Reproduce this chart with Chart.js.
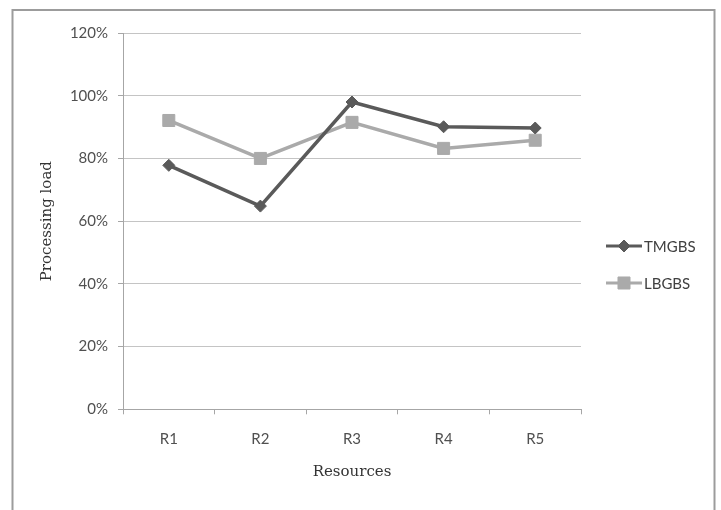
<!DOCTYPE html>
<html>
<head>
<meta charset="utf-8">
<script src="https://cdn.jsdelivr.net/npm/chart.js@4.4.1/dist/chart.umd.min.js"></script>
<style>
  html, body { margin: 0; padding: 0; background: #fff; }
  #wrap { width: 721px; height: 510px; position: relative; }
</style>
</head>
<body>
<div id="wrap"><canvas id="chart" width="721" height="510"></canvas></div>
<script>
// data
const RESOURCES = ['R1', 'R2', 'R3', 'R4', 'R5'];
const TMGBS = [0.778, 0.648, 0.980, 0.901, 0.897];
const LBGBS = [0.921, 0.800, 0.915, 0.832, 0.858];
const Y_TICKS = [0, 0.2, 0.4, 0.6, 0.8, 1.0, 1.2];

const DARK = '#5a5a5a';
const LIGHT = '#aaaaaa';
const AXIS = '#a6a6a6';
const GRID = '#c4c4c4';

// frame around the whole figure
const framePlugin = {
  id: 'frame',
  beforeDraw(chart) {
    const ctx = chart.ctx;
    ctx.save();
    ctx.strokeStyle = '#9c9c9c';
    ctx.lineWidth = 2;
    ctx.strokeRect(12.5, 10, 702, 530);
    ctx.restore();
  }
};

// legend like the original: short line with the marker in the middle
const sideLegend = {
  id: 'sideLegend',
  afterDraw(chart) {
    const ctx = chart.ctx;
    const x0 = chart.chartArea.right + 25;
    const rows = [246, 283];
    chart.data.datasets.forEach((ds, i) => {
      const y = rows[i];
      ctx.save();
      ctx.strokeStyle = ds.borderColor;
      ctx.fillStyle = ds.borderColor;
      ctx.lineWidth = 3;
      ctx.beginPath();
      ctx.moveTo(x0, y);
      ctx.lineTo(x0 + 36, y);
      ctx.stroke();
      ctx.lineWidth = 1;
      Chart.helpers.drawPoint(ctx, {
        pointStyle: ds.pointStyle,
        radius: ds.pointRadius,
        borderWidth: 1
      }, x0 + 18, y);
      ctx.fillStyle = '#404040';
      ctx.font = '15px Lato';
      ctx.textBaseline = 'middle';
      ctx.fillText(ds.label, x0 + 38, y + 1);
      ctx.restore();
    });
  }
};

new Chart(document.getElementById('chart'), {
  type: 'line',
  data: {
    labels: RESOURCES,
    datasets: [
      {
        label: 'TMGBS',
        data: TMGBS,
        borderColor: DARK,
        backgroundColor: DARK,
        borderWidth: 3.5,
        pointStyle: 'rectRot',
        pointRadius: 6,
        pointBorderWidth: 1,
        tension: 0
      },
      {
        label: 'LBGBS',
        data: LBGBS,
        borderColor: LIGHT,
        backgroundColor: LIGHT,
        borderWidth: 3.5,
        pointStyle: 'rect',
        pointRadius: 8.5,
        pointBorderWidth: 1,
        tension: 0
      }
    ]
  },
  options: {
    responsive: false,
    animation: false,
    layout: { padding: { top: 33, right: 140, bottom: 0, left: 0 } },
    plugins: {
      legend: { display: false },
      tooltip: { enabled: false }
    },
    scales: {
      x: {
        offset: true,
        grid: { offset: true, drawOnChartArea: false, color: AXIS, tickLength: 5 },
        border: { color: AXIS, width: 1 },
        ticks: { color: '#505050', font: { family: 'Lato', size: 15 }, padding: 16 },
        title: {
          display: true,
          text: 'Resources',
          color: '#333',
          font: { family: 'DejaVu Serif', size: 15 },
          padding: { top: 0, bottom: 29 }
        },
        afterFit(scale) { scale.height = 100.7; }
      },
      y: {
        min: 0,
        max: 1.2,
        afterBuildTicks(scale) { scale.ticks = Y_TICKS.map(v => ({ value: v })); },
        grid: { color: GRID, tickLength: 5, tickColor: AXIS },
        border: { color: AXIS, width: 1 },
        ticks: {
          color: '#505050',
          font: { family: 'Lato', size: 15 },
          padding: 10,
          callback: v => Math.round(v * 100) + '%'
        },
        title: {
          display: true,
          text: 'Processing load',
          color: '#333',
          font: { family: 'DejaVu Serif', size: 15 },
          padding: { top: 38, bottom: 0 }
        },
        afterFit(scale) { scale.width = 123; }
      }
    }
  },
  plugins: [framePlugin, sideLegend]
});
</script>
</body>
</html>
